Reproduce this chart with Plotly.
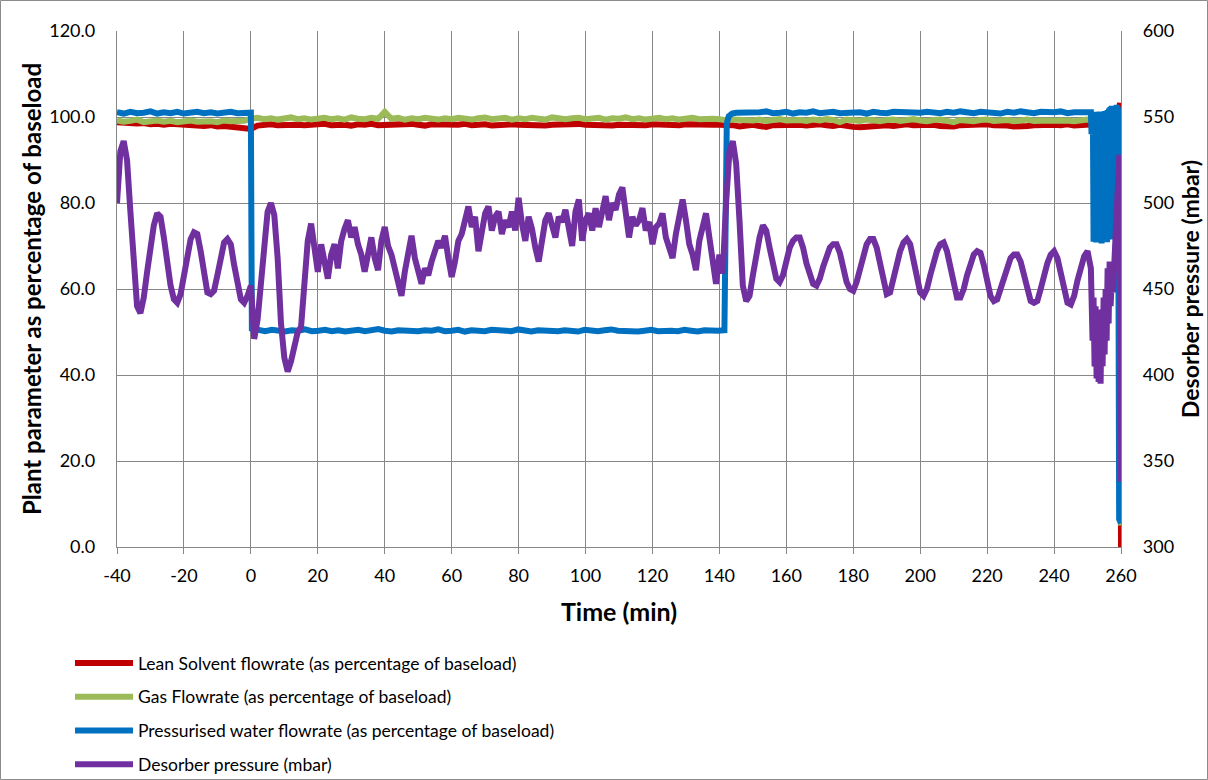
import numpy as np
import plotly.graph_objects as go

# ---------------- data ----------------
# Desorber pressure (mbar), one value per minute from t = -40 to t = 250
PRESSURE_MAIN = [
    500, 530, 536, 525, 495, 462, 440, 436, 445, 460,   # -40..-31
    475, 487, 494, 492, 480, 465, 452, 444, 442, 447,   # -30..-21
    458, 470, 479, 483, 482, 472, 458, 448, 447, 449,   # -20..-11
    458, 468, 477, 479, 476, 464, 452, 444, 442, 446,   # -10..-1
    452, 421, 432, 455, 478, 495, 500, 493, 468, 430,   # 0..9
    410, 402, 408, 415, 425, 428, 450, 478, 488, 470,   # 10..19
    460, 476, 465, 456, 470, 476, 462, 478, 485, 490,   # 20..29
    480, 486, 476, 470, 460, 472, 480, 468, 461, 478,   # 30..39
    486, 475, 470, 462, 455, 446, 460, 472, 481, 468,   # 40..49
    460, 453, 462, 458, 466, 472, 478, 474, 481, 468,   # 50..59
    457, 466, 478, 482, 490, 498, 486, 492, 472, 485,   # 60..69
    494, 498, 484, 492, 495, 482, 490, 486, 495, 484,   # 70..79
    503, 488, 478, 492, 485, 474, 466, 478, 490, 494,   # 80..89
    486, 480, 492, 489, 496, 486, 475, 495, 502, 478,   # 90..99
    490, 494, 484, 497, 486, 495, 504, 490, 500, 496,   # 100..109
    505, 509, 494, 480, 492, 487, 490, 497, 484, 489,   # 110..119
    476, 486, 488, 494, 480, 474, 468, 482, 493, 502,   # 120..129
    490, 476, 470, 461, 478, 486, 494, 480, 466, 453,   # 130..139
    470, 459, 500, 530, 536, 523, 490, 452, 443, 446,   # 140..149
    458, 470, 480, 487, 484, 474, 463, 456, 454, 458,   # 150..159
    466, 474, 478, 480, 480, 474, 465, 458, 453, 452,   # 160..169
    456, 463, 470, 474, 476, 476, 471, 462, 454, 450,   # 170..179
    449, 454, 462, 470, 476, 479, 479, 474, 464, 453,   # 180..189
    447, 448, 456, 465, 472, 477, 479, 476, 466, 455,   # 190..199
    448, 446, 450, 458, 466, 472, 476, 477, 472, 462,   # 200..209
    451, 445, 445, 450, 458, 465, 470, 472, 471, 464,   # 210..219
    454, 446, 443, 444, 450, 457, 463, 468, 470, 470,   # 220..229
    466, 457, 448, 443, 442, 443, 450, 458, 465, 470,   # 230..239
    472, 468, 459, 449, 442, 441, 446, 455, 463, 469,   # 240..249
    472,                                                # 250
]
PRESSURE_TAIL_T = [251.0, 251.5, 251.8, 252.1, 252.4, 252.7, 253.0, 253.3, 253.6, 253.9,
                   254.2, 254.5, 254.8, 255.1, 255.4, 255.7, 256.0, 256.3, 256.6, 256.9,
                   257.2, 257.6, 258.0, 258.5, 259.0, 259.5, 259.8, 260.0]
PRESSURE_TAIL_V = [462, 420, 445, 405, 440, 398, 432, 396, 425, 395,
                   438, 405, 445, 412, 450, 420, 462, 430, 466, 440,
                   455, 448, 470, 490, 510, 528, 520, 338]

# Lean solvent flowrate (%), every 2 min from -40 to 258
LEAN_SOLVENT = [
    98.8, 98.6, 98.7, 98.5, 98.6, 98.3, 98.4, 98.2, 98.4, 98.3,
    98.1, 98.2, 98.0, 97.9, 98.1, 97.8, 97.9, 97.7, 97.5, 97.3,
    97.2, 98.0, 98.2, 98.3, 98.1, 98.2, 98.4, 98.2, 98.1, 98.3,
    98.2, 98.4, 98.1, 98.3, 98.2, 98.0, 98.3, 98.2, 98.4, 98.1,
    98.2, 98.3, 98.1, 98.2, 98.4, 98.2, 98.0, 98.3, 98.2, 98.1,
    98.3, 98.2, 98.4, 98.1, 98.2, 98.3, 98.0, 98.2, 98.1, 98.3,
    98.2, 98.1, 98.3, 98.2, 98.0, 98.2, 98.3, 98.1, 98.2, 98.4,
    98.2, 98.1, 98.3, 98.2, 98.0, 98.2, 98.1, 98.3, 98.2, 98.1,
    98.3, 98.2, 98.0, 98.2, 98.1, 98.3, 98.2, 98.1, 98.0, 98.2,
    98.2, 98.3, 98.1, 97.8, 98.0, 98.2, 97.9, 97.7, 98.1, 98.2,
    98.3, 98.1, 98.2, 98.0, 98.2, 98.3, 98.1, 97.9, 98.2, 97.8,
    97.7, 97.6, 97.8, 98.0, 98.2, 98.1, 97.9, 98.2, 98.3, 98.1,
    98.2, 98.0, 98.2, 97.9, 97.7, 97.8, 98.1, 98.2, 98.0, 98.2,
    98.3, 98.1, 98.2, 98.0, 97.8, 97.7, 97.9, 98.1, 98.2, 98.0,
    98.2, 98.1, 98.3, 98.0, 98.2, 98.1, 98.3, 98.2, 98.4, 98.3,
]
LEAN_TAIL_T = [259.2, 259.7, 260.0]
LEAN_TAIL_V = [99.0, 103.3, 0.0]

# Gas flowrate (%), every 2 min from -40 to 258
GAS_FLOW = [
    99.2, 98.9, 99.1, 99.4, 98.8, 99.0, 99.2, 98.9, 99.1, 98.8,
    99.0, 99.2, 98.9, 99.1, 99.0, 98.8, 99.2, 99.0, 98.9, 99.1,
    99.6, 99.8, 99.5, 99.7, 99.4, 99.6, 99.9, 99.5, 99.7, 99.4,
    99.6, 99.8, 99.5, 99.7, 99.4, 99.9, 99.6, 99.5, 99.8, 99.6,
    101.2, 99.6, 99.8, 99.4, 99.7, 99.5, 99.8, 99.6, 99.4, 99.7,
    99.5, 99.8, 99.6, 99.4, 99.7, 99.9, 99.5, 99.6, 99.8, 99.4,
    99.7, 99.5, 99.8, 99.6, 99.4, 99.9, 99.6, 99.5, 99.7, 99.8,
    99.5, 99.6, 99.8, 99.4, 99.7, 99.6, 99.9, 99.5, 99.7, 99.4,
    99.6, 99.8, 99.5, 99.7, 99.4, 99.6, 99.8, 99.5, 99.7, 99.6,
    99.5, 99.2, 99.4, 99.3, 99.5, 99.2, 99.4, 99.1, 99.3, 99.5,
    99.2, 99.4, 99.3, 99.1, 99.4, 99.2, 99.5, 99.3, 98.8, 99.4,
    99.3, 99.1, 99.4, 99.2, 99.0, 99.3, 99.4, 99.1, 99.2, 99.5,
    99.2, 99.0, 99.3, 99.4, 99.1, 98.8, 99.3, 99.2, 99.0, 99.3,
    99.4, 99.1, 99.2, 99.3, 99.0, 99.2, 99.4, 99.1, 99.3, 99.2,
    99.1, 99.3, 99.2, 99.0, 99.3, 99.4, 99.1, 99.3, 99.6, 99.4,
]
GAS_TAIL_T = [259.6, 260.0]
GAS_TAIL_V = [99.5, 5.0]

# Pressurised water flowrate (%), in segments
WATER_PRE = [101.1, 100.8, 101.2, 100.9, 101.0, 101.3, 100.8, 101.1, 100.9, 101.2,
             100.8, 101.0, 101.2, 100.9, 101.1, 100.8, 101.0, 101.2, 100.9, 101.0, 101.0]  # -40..0
WATER_LOW = [50.8, 50.4, 50.2, 50.5, 50.3, 50.1, 50.4, 50.3, 50.6, 50.2,
             50.3, 50.5, 50.2, 50.4, 50.1, 50.3, 50.5, 50.2, 50.4, 50.7,
             50.3, 50.1, 50.4, 50.3, 50.5, 50.2, 50.4, 50.3, 50.6, 50.2,
             50.3, 50.5, 50.1, 50.4, 50.3, 50.2, 50.5, 50.3, 50.4, 50.2,
             50.6, 50.3, 50.1, 50.4, 50.3, 50.5, 50.2, 50.4, 50.3, 50.1,
             50.5, 50.3, 50.2, 50.4, 50.6, 50.3, 50.2, 50.4, 50.1, 50.3,
             50.5, 50.2, 50.4, 50.3, 50.2, 50.5, 50.3, 50.1, 50.4, 50.2,
             50.3, 50.4]  # 0.3..141.5
WATER_RISE_T = [141.8, 142.2, 142.8, 143.8, 145.0]
WATER_RISE_V = [90.0, 98.5, 100.2, 100.8, 101.0]
WATER_HIGH = [101.0, 101.2, 100.9, 101.1, 101.3, 100.9, 101.0, 101.2, 100.8, 101.1,
              101.0, 101.3, 100.9, 101.1, 101.2, 100.9, 101.0, 101.3, 101.1, 100.8,
              101.2, 101.0, 100.9, 101.2, 101.1, 101.3, 100.9, 101.0, 101.2, 101.1,
              100.9, 101.2, 101.0, 101.3, 101.1, 100.9, 101.2, 101.0, 101.1, 100.8,
              101.2, 101.0, 101.3, 101.1, 100.9, 101.2, 101.0, 101.1, 101.3, 100.9,
              101.1, 101.0, 101.2]  # 146..250
WATER_OSC = [101.1, 96.0, 74.0, 100.8, 71.0, 101.2, 73.0, 100.5, 70.8, 101.0,
             72.0, 100.9, 71.5, 101.3, 73.0, 100.7, 70.6, 101.1, 72.5, 101.0,
             71.0, 101.4, 73.0, 100.9, 70.9, 101.6, 72.0, 102.0, 74.0, 102.3,
             71.5, 102.6, 73.0, 102.2, 75.0]  # 251.0..257.8
WATER_TAIL_T = [258.2, 258.7, 259.1, 259.45, 260.0]
WATER_TAIL_V = [101.8, 102.5, 101.9, 6.5, 5.5]

NAMES = ["Lean Solvent flowrate (as percentage of baseload)",
         "Gas Flowrate (as percentage of baseload)",
         "Pressurised water flowrate (as percentage of baseload)",
         "Desorber pressure (mbar)"]
COLORS = ["#C00000", "#9BBB59", "#0070C0", "#7030A0"]
X_TICKS = [-40, -20, 0, 20, 40, 60, 80, 100, 120, 140, 160, 180, 200, 220, 240, 260]

# ---------------- build series ----------------
def grid(a, b, vals):
    return list(np.linspace(a, b, len(vals)))

p_t = [-40 + i for i in range(len(PRESSURE_MAIN))] + PRESSURE_TAIL_T
p_v = PRESSURE_MAIN + PRESSURE_TAIL_V

r_t = grid(-40, 258, LEAN_SOLVENT) + LEAN_TAIL_T
r_v = LEAN_SOLVENT + LEAN_TAIL_V

g_t = grid(-40, 258, GAS_FLOW) + GAS_TAIL_T
g_v = GAS_FLOW + GAS_TAIL_V

b_t = (grid(-40, 0, WATER_PRE) + grid(0.3, 141.5, WATER_LOW) + WATER_RISE_T
       + grid(146, 250, WATER_HIGH) + grid(251.0, 257.8, WATER_OSC) + WATER_TAIL_T)
b_v = WATER_PRE + WATER_LOW + WATER_RISE_V + WATER_HIGH + WATER_OSC + WATER_TAIL_V

W, H = 1208, 780
ML, MR, MT, MB = 117, 87, 31, 233
PW, PH = W - ML - MR, H - MT - MB
FONT = "Lato"
GRID = "#878787"

fig = go.Figure()
series = [(r_t, r_v, "y"), (g_t, g_v, "y"), (b_t, b_v, "y"), (p_t, p_v, "y2")]
for i, (xs, ys, ax) in enumerate(series):
    fig.add_trace(go.Scatter(x=xs, y=ys, mode="lines", name=NAMES[i], yaxis=ax,
                             legendgroup=str(i),
                             line=dict(color=COLORS[i], width=6)))

tickfont = dict(family=FONT, size=18, color="black")

fig.update_layout(
    width=W, height=H,
    margin=dict(l=ML, r=MR, t=MT, b=MB, autoexpand=False),
    paper_bgcolor="white", plot_bgcolor="white",
    font=dict(family=FONT, color="black"),
    xaxis=dict(range=[-40, 260], tickvals=X_TICKS, ticktext=[str(v) for v in X_TICKS],
               showgrid=True, gridcolor=GRID, gridwidth=1.3, showline=True,
               linecolor=GRID, linewidth=1.3, ticks="outside", ticklen=6,
               tickcolor=GRID, tickwidth=1.3, zeroline=False, tickfont=tickfont,
               ticklabelstandoff=6,
               title=dict(text="<b>Time (min)</b>", font=dict(family=FONT, size=25), standoff=18)),
    yaxis=dict(range=[0, 120], dtick=20, tickformat=".1f",
               showgrid=True, gridcolor=GRID, gridwidth=1.3, showline=True,
               linecolor=GRID, linewidth=1.3, ticks="", zeroline=False, tickfont=tickfont,
               ticklabelstandoff=17,
               title=dict(text="<b>Plant parameter as percentage of baseload</b>",
                          font=dict(family=FONT, size=24), standoff=0)),
    yaxis2=dict(range=[300, 600], dtick=50, overlaying="y", side="right",
                showgrid=False, showline=True, linecolor=GRID, linewidth=1.3,
                ticks="", zeroline=False, tickfont=tickfont, ticklabelstandoff=17,
                title=dict(text="<b>Desorber pressure (mbar)</b>",
                           font=dict(family=FONT, size=23), standoff=9)),
    legend=dict(orientation="v", x=(70 - ML) / PW, xanchor="left",
                y=-(645 - MT - PH) / PH, yanchor="top",
                font=dict(family=FONT, size=17.5, color="black"),
                itemwidth=58, tracegroupgap=8, bgcolor="rgba(0,0,0,0)"),
    showlegend=True,
    shapes=[dict(type="rect", xref="paper", yref="paper",
                 x0=(-ML + 0.5) / PW, x1=(W - ML - 0.5) / PW,
                 y0=-(MB - 0.5) / PH, y1=1 + (MT - 0.5) / PH,
                 line=dict(color="#8c8c8c", width=1), layer="below")],
)

fig.write_html("out.html")
